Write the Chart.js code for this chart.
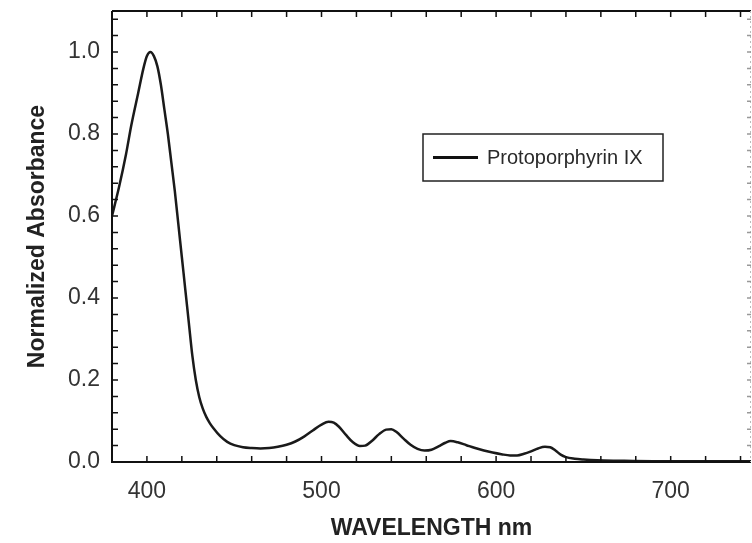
<!DOCTYPE html>
<html>
<head>
<meta charset="utf-8">
<script src="https://cdn.jsdelivr.net/npm/chart.js@4.4.1/dist/chart.umd.min.js"></script>
<style>
  html, body { margin: 0; padding: 0; background: #fff; }
  #wrap { width: 752px; height: 543px; }
</style>
</head>
<body>
<div id="wrap"><canvas id="spectrum" width="752" height="543"></canvas></div>
<script>
// wavelength (nm) and normalized absorbance
const wavelengths = [
  380, 384, 388, 391, 395, 398, 400, 402, 404, 406, 408, 410, 412, 414, 416, 418,
  420, 422, 424, 426, 428, 430, 432, 434, 436, 438, 442, 446, 450, 455, 460, 465, 470, 475,
  480, 485, 490, 495, 500, 504, 507, 510, 514, 518, 522, 525, 529, 533, 537, 540,
  543, 547, 551, 555, 559, 563, 567, 571, 574, 578, 583, 588, 593, 598, 603, 608,
  612, 616, 620, 624, 628, 631, 634, 637, 640, 645, 650, 658, 670, 690, 710, 730, 746
];
const absorbance = [
  0.60, 0.67, 0.75, 0.82, 0.90, 0.96, 0.99, 1.00, 0.99, 0.965, 0.92, 0.86, 0.80, 0.73, 0.66, 0.58,
  0.50, 0.42, 0.34, 0.26, 0.20, 0.158, 0.13, 0.11, 0.095, 0.083, 0.063, 0.049, 0.041, 0.036, 0.034, 0.033, 0.034, 0.037,
  0.042, 0.050, 0.062, 0.077, 0.091, 0.098, 0.096, 0.086, 0.066, 0.048, 0.039, 0.040, 0.052, 0.068, 0.079, 0.080,
  0.073, 0.057, 0.042, 0.032, 0.028, 0.030, 0.038, 0.047, 0.051, 0.048, 0.041, 0.034, 0.028, 0.023, 0.019, 0.016,
  0.016, 0.020, 0.026, 0.033, 0.037, 0.036, 0.028, 0.018, 0.012, 0.008, 0.006, 0.004, 0.003, 0.002, 0.002, 0.002, 0.002
];
const xTicks = [400, 500, 600, 700];
const yTicks = [0, 0.2, 0.4, 0.6, 0.8, 1.0];
const seriesName = 'Protoporphyrin IX';

const points = wavelengths.map((w, i) => ({ x: w, y: absorbance[i] }));

// box frame, inward ticks and the legend box
const framePlugin = {
  id: 'frame',
  afterDatasetsDraw(chart) {
    const { ctx, chartArea: a, scales: { x, y } } = chart;
    ctx.save();
    ctx.strokeStyle = '#111';
    ctx.lineWidth = 2;
    ctx.beginPath();
    ctx.moveTo(a.left, a.top); ctx.lineTo(a.right, a.top);
    ctx.moveTo(a.left, a.top); ctx.lineTo(a.left, a.bottom); ctx.lineTo(a.right, a.bottom);
    ctx.stroke();

    // right edge is faint in the original
    ctx.strokeStyle = '#bbb';
    ctx.lineWidth = 1;
    ctx.setLineDash([2, 3]);
    ctx.beginPath();
    ctx.moveTo(a.right - 0.5, a.top); ctx.lineTo(a.right - 0.5, a.bottom);
    ctx.stroke();
    ctx.setLineDash([]);

    ctx.strokeStyle = '#111';
    ctx.lineWidth = 1.5;
    ctx.beginPath();
    for (let v = 380; v <= x.max; v += 20) {
      const px = x.getPixelForValue(v);
      if (px <= a.left + 1 || px >= a.right - 1) continue;
      ctx.moveTo(px, a.bottom); ctx.lineTo(px, a.bottom - 6);
      ctx.moveTo(px, a.top); ctx.lineTo(px, a.top + 6);
    }
    for (let k = 1; k * 0.04 < y.max; k++) {
      const py = y.getPixelForValue(k * 0.04);
      ctx.moveTo(a.left, py); ctx.lineTo(a.left + 6, py);
    }
    ctx.stroke();
    ctx.strokeStyle = '#999';
    ctx.beginPath();
    for (let k = 1; k * 0.04 < y.max; k++) {
      const py = y.getPixelForValue(k * 0.04);
      ctx.moveTo(a.right, py); ctx.lineTo(a.right - 4, py);
    }
    ctx.stroke();

    // legend
    const bx = a.left + 311, by = a.top + 123, bw = 240, bh = 47;
    ctx.strokeStyle = '#222';
    ctx.lineWidth = 1.5;
    ctx.strokeRect(bx, by, bw, bh);
    ctx.strokeStyle = '#111';
    ctx.lineWidth = 3;
    ctx.beginPath();
    ctx.moveTo(bx + 10, by + bh / 2); ctx.lineTo(bx + 55, by + bh / 2);
    ctx.stroke();
    ctx.fillStyle = '#2a2a2a';
    ctx.font = '20px "Liberation Sans", Arial, sans-serif';
    ctx.textBaseline = 'middle';
    ctx.fillText(chart.data.datasets[0].label, bx + 64, by + bh / 2 + 1);
    ctx.restore();
  }
};

new Chart(document.getElementById('spectrum'), {
  type: 'line',
  data: {
    datasets: [{
      label: seriesName,
      data: points,
      borderColor: '#1a1a1a',
      borderWidth: 2.5,
      pointRadius: 0,
      cubicInterpolationMode: 'monotone',
      fill: false
    }]
  },
  options: {
    responsive: false,
    animation: false,
    layout: { padding: { top: 11, right: 1, left: 0, bottom: 0 } },
    plugins: { legend: { display: false }, tooltip: { enabled: false } },
    scales: {
      x: {
        type: 'linear',
        min: 380,
        max: 746,
        afterBuildTicks: s => { s.ticks = xTicks.map(v => ({ value: v })); },
        afterFit: s => { s.height = 81; s.paddingLeft = 0; s.paddingRight = 0; },
        grid: { display: false, drawTicks: false },
        border: { display: false },
        ticks: {
          padding: 16,
          color: '#333',
          font: { family: '"Liberation Sans", Arial, sans-serif', size: 23 },
          callback: v => String(v)
        },
        title: {
          display: true,
          text: 'WAVELENGTH nm',
          color: '#222',
          padding: { top: 0, bottom: 1 },
          font: { family: '"Liberation Sans", Arial, sans-serif', size: 23, weight: 'bold' }
        }
      },
      y: {
        min: 0,
        max: 1.1,
        afterBuildTicks: s => { s.ticks = yTicks.map(v => ({ value: v })); },
        afterFit: s => { s.width = 112; s.paddingTop = 0; s.paddingBottom = 0; },
        grid: { display: false, drawTicks: false },
        border: { display: false },
        ticks: {
          padding: 12,
          color: '#333',
          font: { family: '"Liberation Sans", Arial, sans-serif', size: 23 },
          callback: v => v.toFixed(1)
        },
        title: {
          display: true,
          text: 'Normalized Absorbance',
          color: '#222',
          padding: { top: 24, bottom: 0 },
          font: { family: '"Liberation Sans", Arial, sans-serif', size: 23, weight: 'bold' }
        }
      }
    }
  },
  plugins: [framePlugin]
});
</script>
</body>
</html>
